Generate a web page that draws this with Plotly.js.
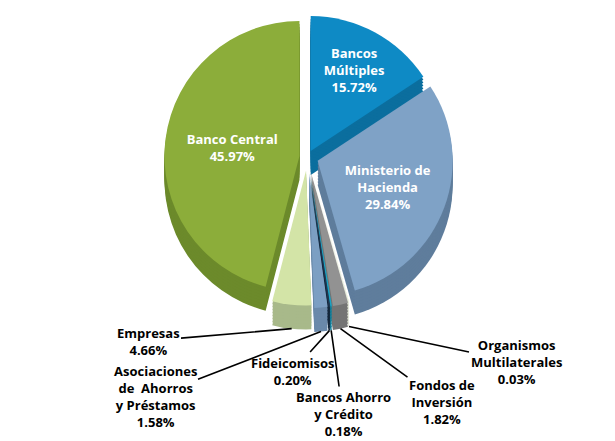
<!DOCTYPE html>
<html>
<head>
<meta charset="utf-8">
<script src="https://cdn.plot.ly/plotly-3.0.1.min.js"></script>
<style>html,body{margin:0;padding:0;background:#fff;}#chart{width:615px;height:441px;}</style>
</head>
<body>
<div id="chart"></div>
<script>
// ---- data ----
const categories = ['Bancos<br>Múltiples', 'Ministerio de<br>Hacienda', 'Organismos<br>Multilaterales',
  'Fondos de<br>Inversión', 'Bancos Ahorro<br>y Crédito', 'Fideicomisos',
  'Asociaciones<br>de  Ahorros<br>y Préstamos', 'Empresas', 'Banco Central'];
const shares = [15.72, 29.84, 0.03, 1.82, 0.18, 0.20, 1.58, 4.66, 45.97];
const insideLabel = [true, true, false, false, false, false, false, false, true];

// ---- styles ----
const topColors  = ['#0e8ac5', '#7fa2c6', '#c9d7a3', '#929292', '#1aa3c4', '#1e3550', '#7c9fc3', '#d3e4a7', '#8cad3a'];
const sideColors = ['#0b6e9e', '#5f7d9c', '#a3b083', '#747474', '#137f99', '#14263a', '#6a89aa', '#a8b98a', '#6c8a2b'];
const pulls = [0.05, 0.08, 0.12, 0.12, 0.12, 0.12, 0.12, 0.10, 0.06];
// outside label centres in pixels (index -> [x, y])
const labelPos = {2: [516, 362], 3: [442, 402], 4: [343, 414], 5: [293, 371], 6: [155, 396], 7: [148, 341]};

const W = 615, H = 441;
const dom0 = [0.3011, 0.9869];
const layers = 8, step = 3; // depth layers, pixels each
const maxPull = Math.max(...pulls);
const boxH = (dom0[1] - dom0[0]) * H;
const r = Math.min(W / 2, boxH / 2) / (1 + maxPull);
const cx = W / 2;
const cy = H * (1 - dom0[0]) - boxH / 2;
const depth = layers * step;

const traces = [];
for (let k = layers; k >= 1; k--) {
  const dy = k * step / H;
  traces.push({
    type: 'pie', values: shares, labels: categories, sort: false, direction: 'clockwise', rotation: 0,
    pull: pulls, domain: {x: [0, 1], y: [dom0[0] - dy, dom0[1] - dy]},
    marker: {colors: sideColors, line: {width: 0}}, textinfo: 'none', hoverinfo: 'skip', showlegend: false
  });
}
traces.push({
  type: 'pie', values: shares, labels: categories, sort: false, direction: 'clockwise', rotation: 0,
  pull: pulls, domain: {x: [0, 1], y: dom0},
  marker: {colors: topColors, line: {width: 0}},
  text: categories.map((c, i) => insideLabel[i] ? c + '<br>' + shares[i].toFixed(2) + '%' : ''),
  textinfo: 'text', textposition: 'inside', insidetextorientation: 'horizontal',
  insidetextfont: {family: 'Open Sans, sans-serif', size: 13, color: '#ffffff', weight: 'bold'},
  hoverinfo: 'label+value', showlegend: false
});

// leader-line annotations for small slices
const total = shares.reduce((a, b) => a + b, 0);
let cum = 0;
const annotations = [];
shares.forEach((v, i) => {
  const mid = (cum + v / 2) / total * 2 * Math.PI;
  cum += v;
  if (insideLabel[i]) return;
  const R = r * (1 + pulls[i]);
  const px = cx + R * Math.sin(mid);
  const py = cy - R * Math.cos(mid) + depth;
  const [tx, ty] = labelPos[i];
  annotations.push({
    x: px / W, y: 1 - py / H, xref: 'paper', yref: 'paper',
    ax: tx - px, ay: ty - py, showarrow: true, arrowhead: 0, arrowwidth: 1.6, arrowcolor: '#000',
    text: categories[i] + '<br>' + shares[i].toFixed(2) + '%',
    font: {family: 'Open Sans, sans-serif', size: 13, color: '#000', weight: 'bold'}, align: 'center'
  });
});

Plotly.newPlot('chart', traces, {
  width: W, height: H, margin: {l: 0, r: 0, t: 0, b: 0},
  paper_bgcolor: '#ffffff', showlegend: false, annotations: annotations
}, {displayModeBar: false, staticPlot: true});
</script>
</body>
</html>
